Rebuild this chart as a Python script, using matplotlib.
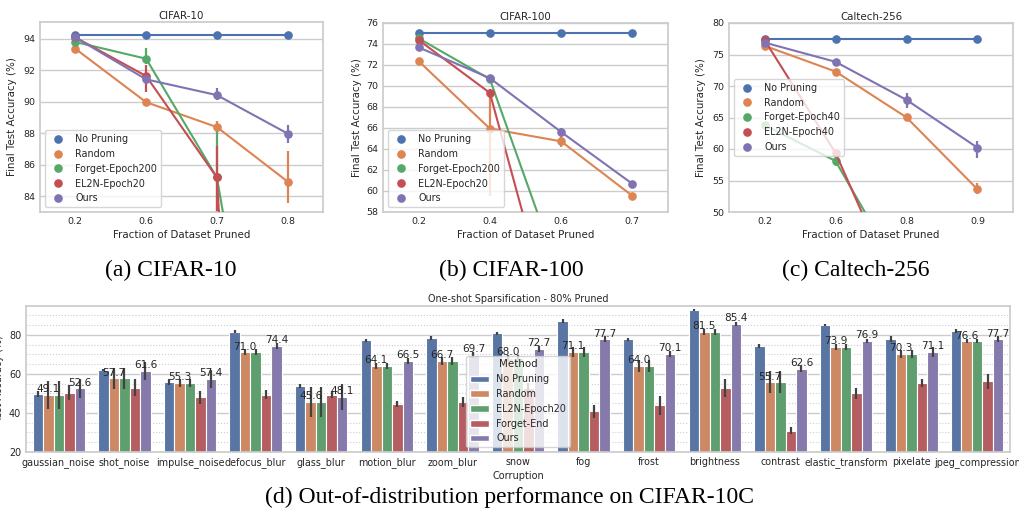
import colorsys
import numpy as np
import matplotlib
matplotlib.use("Agg")
import matplotlib.pyplot as plt
from matplotlib.lines import Line2D
from matplotlib.patches import Patch
from matplotlib.ticker import MultipleLocator
import matplotlib.colors as mcolors

# ---- data: top row (pointplots) ----
c10_x = ['0.2', '0.6', '0.7', '0.8']
c10_methods = ['No Pruning', 'Random', 'Forget-Epoch200', 'EL2N-Epoch20', 'Ours']
c10_mean = [[94.25, 94.25, 94.25, 94.25],
            [93.36, 89.97, 88.39, 84.93],
            [93.79, 92.73, 85.19, 59.5],
            [94.08, 91.63, 85.19, 10.0],
            [94.08, 91.42, 90.42, 87.98]]
c10_lo = [[94.2, 94.2, 94.2, 94.2],
          [93.2, 89.8, 88.0, 83.6],
          [93.3, 92.4, 82.0, 55.0],
          [93.9, 90.6, 78.0, 5.0],
          [93.9, 91.2, 90.1, 87.4]]
c10_hi = [[94.3, 94.3, 94.3, 94.3],
          [93.5, 90.1, 88.8, 86.9],
          [94.1, 93.4, 88.2, 64.0],
          [94.3, 92.3, 87.2, 15.0],
          [94.2, 91.6, 90.9, 88.5]]

c100_x = ['0.2', '0.4', '0.6', '0.7']
c100_methods = ['No Pruning', 'Random', 'Forget-Epoch200', 'EL2N-Epoch20', 'Ours']
c100_mean = [[75.0, 75.0, 75.0, 75.0],
             [72.37, 65.94, 64.73, 59.54],
             [74.54, 70.65, 51.6, 40.0],
             [74.38, 69.34, 44.5, 35.0],
             [73.68, 70.75, 65.62, 60.68]]
c100_lo = [[74.95, 74.95, 74.95, 74.95],
           [72.0, 59.5, 64.2, 59.2],
           [74.3, 70.3, 50.0, 38.0],
           [74.1, 68.9, 43.0, 33.0],
           [73.5, 70.5, 65.2, 60.5]]
c100_hi = [[75.05, 75.05, 75.05, 75.05],
           [72.7, 69.3, 65.2, 59.8],
           [74.8, 71.0, 53.0, 42.0],
           [74.7, 69.7, 46.0, 37.0],
           [73.9, 71.0, 66.0, 60.9]]

cal_x = ['0.2', '0.6', '0.8', '0.9']
cal_methods = ['No Pruning', 'Random', 'Forget-Epoch40', 'EL2N-Epoch40', 'Ours']
cal_mean = [[77.45, 77.45, 77.45, 77.45],
            [76.39, 72.3, 65.02, 53.6],
            [63.8, 58.1, 38.5, 30.0],
            [77.3, 59.4, 33.9, 25.0],
            [76.9, 73.84, 67.8, 60.2]]
cal_lo = [[77.4, 77.4, 77.4, 77.4],
          [76.1, 72.0, 64.8, 52.8],
          [63.5, 57.3, 37.0, 28.0],
          [76.6, 59.0, 32.0, 23.0],
          [76.7, 73.6, 66.5, 58.5]]
cal_hi = [[77.5, 77.5, 77.5, 77.5],
          [76.7, 72.6, 65.3, 54.6],
          [64.1, 58.7, 40.0, 32.0],
          [77.7, 59.8, 36.0, 27.0],
          [77.1, 74.1, 68.9, 61.2]]

# ---- data: bottom row (CIFAR-10C bars) ----
corruptions = ['gaussian_noise', 'shot_noise', 'impulse_noise', 'defocus_blur', 'glass_blur',
               'motion_blur', 'zoom_blur', 'snow', 'fog', 'frost', 'brightness', 'contrast',
               'elastic_transform', 'pixelate', 'jpeg_compression']
bar_methods = ['No Pruning', 'Random', 'EL2N-Epoch20', 'Forget-End', 'Ours']
bar_vals = [
    [49.6, 61.9, 55.6, 81.6, 53.6, 77.2, 78.2, 80.8, 86.8, 77.6, 92.5, 74.3, 84.8, 78.0, 81.7],
    [49.1, 57.7, 55.3, 71.0, 45.6, 64.1, 66.7, 68.0, 71.1, 64.0, 81.5, 55.7, 73.9, 70.3, 76.6],
    [49.1, 57.7, 55.3, 71.0, 45.6, 64.1, 66.7, 68.0, 71.1, 64.0, 81.5, 55.7, 73.9, 70.3, 76.6],
    [50.4, 52.9, 47.9, 49.4, 49.4, 44.6, 45.4, 52.5, 40.8, 43.9, 52.5, 31.0, 50.0, 55.4, 56.1],
    [52.6, 61.6, 57.4, 74.4, 48.1, 66.5, 69.7, 72.7, 77.7, 70.1, 85.4, 62.6, 76.9, 71.1, 77.7],
]
bar_err = [
    [1.5, 0.6, 1.5, 0.6, 1.0, 0.7, 1.0, 0.7, 1.0, 0.6, 0.5, 1.2, 0.5, 1.5, 1.0],
    [7.0, 5.5, 2.0, 1.5, 7.5, 1.5, 2.0, 1.5, 2.5, 3.0, 1.5, 5.5, 1.5, 2.0, 1.0],
    [7.0, 5.5, 2.0, 1.5, 7.5, 1.5, 2.0, 1.5, 2.5, 3.0, 1.5, 5.5, 1.5, 2.0, 1.0],
    [4.0, 4.4, 3.5, 2.5, 2.0, 1.5, 2.5, 3.0, 3.5, 5.0, 4.6, 2.0, 3.0, 2.0, 4.0],
    [5.0, 4.7, 4.5, 1.5, 6.5, 1.5, 1.5, 1.5, 1.5, 1.5, 1.0, 1.5, 1.0, 2.5, 1.5],
]
labelled = ['Random', 'Ours']

deep = ['#4C72B0', '#DD8452', '#55A868', '#C44E52', '#8172B3']


def desat(c, prop=0.75):
    r, g, b = mcolors.to_rgb(c)
    h, l, s = colorsys.rgb_to_hls(r, g, b)
    return colorsys.hls_to_rgb(h, l, s * prop)


plt.rcParams['font.family'] = ['DejaVu Sans']
plt.rcParams['text.color'] = '.15'
plt.rcParams['axes.labelcolor'] = '.15'
plt.rcParams['xtick.color'] = '.15'
plt.rcParams['ytick.color'] = '.15'

W, H = 1019, 514
fig = plt.figure(figsize=(W / 100, H / 100), dpi=100)


def px_axes(l, t, r, b):
    return fig.add_axes([l / W, 1 - b / H, (r - l) / W, (b - t) / H])


def style(ax):
    for s in ax.spines.values():
        s.set_color('.8')
        s.set_linewidth(1.25)
    ax.tick_params(length=0, pad=3.5)
    ax.set_axisbelow(True)


def point_panel(ax, title, xlabels, methods, mean, lo, hi, ylim, ystep, loc, anchor, ylx):
    style(ax)
    x = np.arange(len(xlabels))
    for i, m in enumerate(methods):
        ax.vlines(x, lo[i], hi[i], color=deep[i], lw=1.6, zorder=2)
        ax.plot(x, mean[i], '-o', color=deep[i], lw=1.5, ms=5.2, zorder=3)
    ax.set_xlim(-0.5, len(xlabels) - 0.5)
    ax.set_ylim(*ylim)
    ax.yaxis.set_major_locator(MultipleLocator(ystep))
    ax.set_xticks(x)
    ax.set_xticklabels(xlabels)
    ax.tick_params(labelsize=6.8)
    ax.grid(axis='y', color='.8', lw=1.0)
    ax.set_title(title, fontsize=7.4, pad=2)
    ax.set_xlabel('Fraction of Dataset Pruned', fontsize=7.4, labelpad=3)
    ax.set_ylabel('Final Test Accuracy (%)', fontsize=7.4)
    ax.yaxis.set_label_coords(ylx, 0.5)
    handles = [Line2D([], [], marker='o', ls='', color=deep[i], ms=5.2) for i in range(len(methods))]
    leg = ax.legend(handles, methods, loc=loc, bbox_to_anchor=anchor, fontsize=6.9, framealpha=0.8)
    leg.get_frame().set_edgecolor('.8')


ax_a = px_axes(40, 22, 323, 212)
point_panel(ax_a, 'CIFAR-10', c10_x, c10_methods, c10_mean, c10_lo, c10_hi,
            (83, 95.06), 2, 'lower left', None, -0.081)
ax_b = px_axes(383, 23, 668, 212)
point_panel(ax_b, 'CIFAR-100', c100_x, c100_methods, c100_mean, c100_lo, c100_hi,
            (58, 76), 2, 'lower left', None, -0.074)
ax_c = px_axes(729, 23, 1013, 212)
point_panel(ax_c, 'Caltech-256', cal_x, cal_methods, cal_mean, cal_lo, cal_hi,
            (50, 80), 5, 'center left', (0, 0.5), -0.081)

# ---- bottom bar chart ----
ax_d = px_axes(26, 306, 1010, 452)
style(ax_d)
xc = np.arange(len(corruptions))
bw = 0.8 / len(bar_methods)
for i, m in enumerate(bar_methods):
    xs = xc + (i - (len(bar_methods) - 1) / 2) * bw
    cont = ax_d.bar(xs, bar_vals[i], width=bw, color=desat(deep[i]), edgecolor='white',
                    lw=0.8, zorder=2)
    v = np.array(bar_vals[i])
    e = np.array(bar_err[i])
    ax_d.vlines(xs, v - e, v + e, color='.26', lw=1.6, zorder=3)
    if m in labelled:
        ax_d.bar_label(cont, labels=[f'{t:.1f}' for t in bar_vals[i]], fontsize=7.6,
                       padding=0.5, color='.15', zorder=4)
ax_d.set_xlim(-0.5, len(corruptions) - 0.5)
ax_d.set_ylim(20, 94.7)
ax_d.yaxis.set_major_locator(MultipleLocator(20))
ax_d.yaxis.set_minor_locator(MultipleLocator(5))
ax_d.tick_params(which='minor', length=0)
ax_d.grid(axis='y', which='major', color='.8', lw=1.0)
ax_d.grid(axis='y', which='minor', color='.8', lw=0.8, ls=':')
ax_d.set_xticks(xc)
ax_d.set_xticklabels(corruptions)
ax_d.tick_params(labelsize=6.9)
ax_d.set_title('One-shot Sparsification - 80% Pruned', fontsize=6.9, pad=3)
ax_d.set_xlabel('Corruption', fontsize=7, labelpad=2)
ax_d.set_ylabel('Test Accuracy (%)', fontsize=7)
ax_d.yaxis.set_label_coords(-0.0224, 0.5)
bh = [Patch(facecolor=desat(deep[i]), edgecolor='white') for i in range(len(bar_methods))]
leg = ax_d.legend(bh, bar_methods, title='Method', loc='lower center', fontsize=6.9,
                  title_fontsize=7.4, framealpha=0.8)
leg.get_frame().set_edgecolor('.8')

# ---- captions ----
cap = dict(ha='center', va='center', family=['Liberation Serif', 'DejaVu Serif'], fontsize=17, color='black')
fig.text(171 / W, 1 - 270 / H, '(a) CIFAR-10', **cap)
fig.text(511 / W, 1 - 270 / H, '(b) CIFAR-100', **cap)
fig.text(856 / W, 1 - 270 / H, '(c) Caltech-256', **cap)
fig.text(510 / W, 1 - 497 / H, '(d) Out-of-distribution performance on CIFAR-10C', **cap)

fig.savefig('out.png', dpi=100)
